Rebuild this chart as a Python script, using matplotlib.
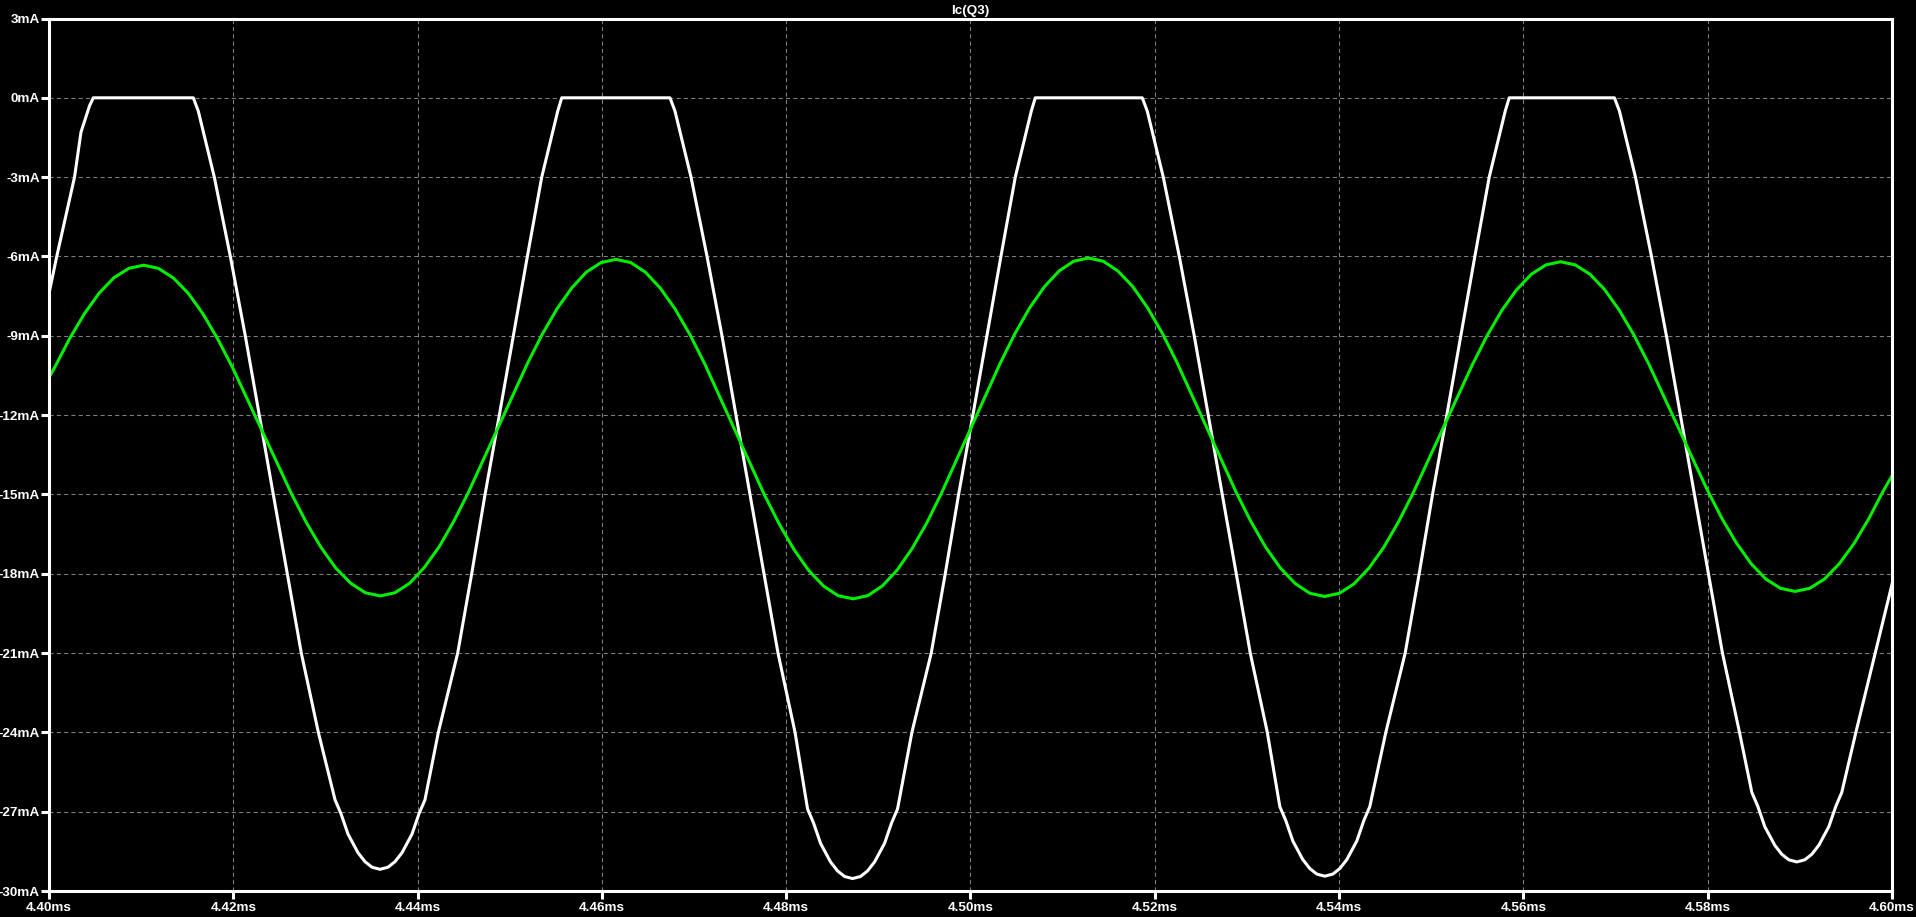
import matplotlib
matplotlib.use("Agg")
import matplotlib.pyplot as plt

# Ic(Q3) trace (white): time in ms, current in mA
t_white = [
    4.40000, 4.40084, 4.40277, 4.40347, 4.40440, 4.40481,
    4.41566, 4.41620, 4.41794, 4.41968, 4.42130, 4.42282, 4.42434, 4.42586,
    4.42738, 4.42923,
    4.43104, 4.43169, 4.43245, 4.43353, 4.43429, 4.43505, 4.43592,
    4.43679, 4.43755, 4.43831, 4.43939, 4.44015, 4.44080,
    4.44225, 4.44435, 4.44587, 4.44732, 4.44887, 4.45039, 4.45191,
    4.45347, 4.45521, 4.45564,
    4.46739, 4.46793, 4.46967, 4.47141, 4.47303, 4.47455, 4.47607, 4.47759,
    4.47911, 4.48096,
    4.48232, 4.48297, 4.48373, 4.48481, 4.48557, 4.48633, 4.48720,
    4.48807, 4.48883, 4.48959, 4.49067, 4.49143, 4.49208,
    4.49364, 4.49574, 4.49726, 4.49871, 4.50026, 4.50178, 4.50330,
    4.50486, 4.50660, 4.50703,
    4.51864, 4.51918, 4.52092, 4.52266, 4.52428, 4.52580, 4.52732, 4.52884,
    4.53036, 4.53221,
    4.53357, 4.53422, 4.53498, 4.53606, 4.53682, 4.53758, 4.53845,
    4.53932, 4.54008, 4.54084, 4.54192, 4.54268, 4.54333,
    4.54507, 4.54717, 4.54869, 4.55014, 4.55169, 4.55321, 4.55473,
    4.55629, 4.55803, 4.55846,
    4.56988, 4.57042, 4.57216, 4.57390, 4.57552, 4.57704, 4.57856, 4.58008,
    4.58160, 4.58345,
    4.58479, 4.58544, 4.58620, 4.58728, 4.58804, 4.58880, 4.58967,
    4.59054, 4.59130, 4.59206, 4.59314, 4.59390, 4.59455,
    4.59608, 4.59818, 4.60000,
]
i_white = [
    -7.4, -6.0, -3.0, -1.3, -0.3, 0.0,
    0.0, -0.5, -3.0, -6.0, -9.0, -12.0, -15.0, -18.0,
    -21.0, -24.0,
    -26.55, -27.08, -27.85, -28.55, -28.89, -29.10, -29.18,
    -29.10, -28.89, -28.55, -27.85, -27.08, -26.55,
    -24.0, -21.0, -18.0, -15.0, -12.0, -9.0, -6.0,
    -3.0, -0.5, 0.0,
    0.0, -0.5, -3.0, -6.0, -9.0, -12.0, -15.0, -18.0,
    -21.0, -24.0,
    -26.90, -27.43, -28.20, -28.90, -29.24, -29.45, -29.53,
    -29.45, -29.24, -28.90, -28.20, -27.43, -26.90,
    -24.0, -21.0, -18.0, -15.0, -12.0, -9.0, -6.0,
    -3.0, -0.5, 0.0,
    0.0, -0.5, -3.0, -6.0, -9.0, -12.0, -15.0, -18.0,
    -21.0, -24.0,
    -26.81, -27.34, -28.11, -28.81, -29.15, -29.36, -29.44,
    -29.36, -29.15, -28.81, -28.11, -27.34, -26.81,
    -24.0, -21.0, -18.0, -15.0, -12.0, -9.0, -6.0,
    -3.0, -0.5, 0.0,
    0.0, -0.5, -3.0, -6.0, -9.0, -12.0, -15.0, -18.0,
    -21.0, -24.0,
    -26.27, -26.80, -27.57, -28.27, -28.61, -28.82, -28.90,
    -28.82, -28.61, -28.27, -27.57, -26.80, -26.27,
    -24.0, -21.0, -18.4,
]

# second trace (green)
t_green = [
    4.40000, 4.40064, 4.40225, 4.40385, 4.40546, 4.40706, 4.40867, 4.41027,
    4.41187, 4.41348, 4.41508, 4.41669, 4.41829, 4.41990, 4.42632, 4.42792,
    4.42953, 4.43113, 4.43274, 4.43434, 4.43594,
    4.43754, 4.43914, 4.44074, 4.44234, 4.44394, 4.44553, 4.45193, 4.45353,
    4.45513, 4.45673, 4.45832, 4.45992, 4.46152,
    4.46313, 4.46474, 4.46634, 4.46795, 4.46956, 4.47117, 4.47760, 4.47921,
    4.48082, 4.48243, 4.48403, 4.48564, 4.48725,
    4.48885, 4.49044, 4.49204, 4.49364, 4.49524, 4.49683, 4.50322, 4.50482,
    4.50641, 4.50801, 4.50961, 4.51120, 4.51280,
    4.51440, 4.51600, 4.51761, 4.51921, 4.52081, 4.52241, 4.52882, 4.53042,
    4.53202, 4.53362, 4.53523, 4.53683, 4.53843,
    4.54003, 4.54163, 4.54323, 4.54483, 4.54643, 4.54803, 4.55444, 4.55604,
    4.55764, 4.55924, 4.56084, 4.56244, 4.56404,
    4.56563, 4.56722, 4.56881, 4.57040, 4.57199, 4.57358, 4.57994, 4.58153,
    4.58312, 4.58471, 4.58630, 4.58789, 4.58948,
    4.59108, 4.59268, 4.59428, 4.59588, 4.59748, 4.59908, 4.60000,
]
i_green = [
    -10.58, -10.18, -9.10, -8.16, -7.38, -6.80, -6.45, -6.33,
    -6.45, -6.81, -7.38, -8.16, -9.11, -10.19, -14.98, -16.06,
    -17.01, -17.79, -18.36, -18.72, -18.84,
    -18.72, -18.36, -17.76, -16.98, -16.01, -14.91, -10.04, -8.94,
    -7.98, -7.19, -6.59, -6.23, -6.11,
    -6.23, -6.60, -7.20, -7.99, -8.96, -10.07, -14.99, -16.10,
    -17.07, -17.87, -18.46, -18.83, -18.95,
    -18.83, -18.46, -17.86, -17.06, -16.09, -14.97, -10.04, -8.92,
    -7.95, -7.15, -6.55, -6.18, -6.06,
    -6.18, -6.55, -7.14, -7.94, -8.90, -10.01, -14.91, -16.02,
    -16.99, -17.78, -18.37, -18.74, -18.86,
    -18.74, -18.38, -17.79, -17.01, -16.05, -14.95, -10.11, -9.01,
    -8.05, -7.27, -6.68, -6.32, -6.20,
    -6.32, -6.67, -7.25, -8.03, -8.97, -10.05, -14.82, -15.90,
    -16.84, -17.62, -18.20, -18.55, -18.67,
    -18.55, -18.20, -17.62, -16.86, -15.92, -14.85, -14.30,
]

x_ticks = [4.40, 4.42, 4.44, 4.46, 4.48, 4.50, 4.52, 4.54, 4.56, 4.58, 4.60]
x_labels = ["4.40ms", "4.42ms", "4.44ms", "4.46ms", "4.48ms", "4.50ms",
            "4.52ms", "4.54ms", "4.56ms", "4.58ms", "4.60ms"]
y_ticks = [3, 0, -3, -6, -9, -12, -15, -18, -21, -24, -27, -30]
y_labels = ["3mA", "0mA", "-3mA", "-6mA", "-9mA", "-12mA", "-15mA",
            "-18mA", "-21mA", "-24mA", "-27mA", "-30mA"]

plt.rcParams['font.family'] = ['Liberation Sans', 'DejaVu Sans']
plt.rcParams['font.weight'] = 'bold'

W, H = 1916, 917
fig = plt.figure(figsize=(W / 100, H / 100), dpi=100, facecolor='black')
ax = fig.add_axes([49 / W, 1 - 891 / H, (1892 - 49) / W, (891 - 18.5) / H])
ax.set_facecolor('black')

ax.plot(t_white, i_white, color='white', lw=2.2, solid_joinstyle='round', zorder=3)
ax.plot(t_green, i_green, color='#00f000', lw=2.2, solid_joinstyle='round', zorder=4)

ax.set_xlim(4.40, 4.60)
ax.set_ylim(-30, 3)
ax.set_xticks(x_ticks, x_labels)
ax.set_yticks(y_ticks, y_labels)
ax.grid(True, color='#808080', lw=0.75, linestyle=(0, (4, 3)))

for s in ax.spines.values():
    s.set_color('white')
    s.set_linewidth(2.2)
    s.set_zorder(5)

ax.tick_params(colors='white', length=6, width=2.2, labelsize=9.7)
ax.tick_params(axis='y', pad=0.5)
ax.tick_params(axis='x', pad=2)
ax.set_title('Ic(Q3)', color='white', fontsize=9.7, fontweight='bold', pad=3)

fig.savefig('out.png', dpi=100, facecolor='black')
